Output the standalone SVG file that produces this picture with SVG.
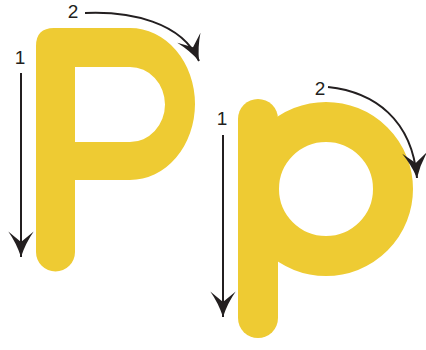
<svg xmlns="http://www.w3.org/2000/svg" width="426" height="350" viewBox="0 0 426 350">
  <defs>
    <style>
      .fillY { fill: #EECB33; fill-rule: evenodd; }
      .letter { fill: none; stroke: #EECB33; stroke-width: 40; stroke-linecap: round; stroke-linejoin: round; }
      .arrow { fill: none; stroke: #231F20; stroke-width: 2; marker-end: url(#head); }
      .num { font-family: "Liberation Sans", Arial, sans-serif; font-size: 19px; fill: #231F20; text-anchor: middle; }
    </style>
    <marker id="head" markerUnits="userSpaceOnUse" markerWidth="30" markerHeight="30" viewBox="-24 -12 26 24" refX="0" refY="0" orient="auto">
      <path d="M0,0 Q-12,-4 -22,-11 L-13,0 L-22,11 Q-12,4 0,0 Z" fill="#231F20"/>
    </marker>
  </defs>
  <rect width="426" height="350" fill="#FFFFFF"/>

  <g id="upper-P">
    <path class="fillY" d="M36,252 L36,46 Q36,28 54,28 L130,28 A65,76 0 0 1 130,180 L75,180 L75,252 A19.5,19.5 0 0 1 36,252 Z M75,67 L130,67 A35,37.5 0 0 1 130,142 L75,142 Z"/>
  </g>
  <g id="lower-p">
    <circle class="letter" cx="326" cy="189" r="67"/>
    <path class="letter" d="M258,119 L258,318"/>
  </g>

  <g id="connectors">
    <path class="arrow" d="M21,73 L21,257"/>
    <path class="arrow" d="M85,13 C130,11 182,22 199,61"/>
    <path class="arrow" d="M223,135 L223,317"/>
    <path class="arrow" d="M328,87 C375,92 412,120 417,178"/>
  </g>

  <g id="labels">
    <text class="num" x="20" y="64">1</text>
    <text class="num" x="73" y="18">2</text>
    <text class="num" x="222" y="125">1</text>
    <text class="num" x="320" y="95">2</text>
  </g>
</svg>
